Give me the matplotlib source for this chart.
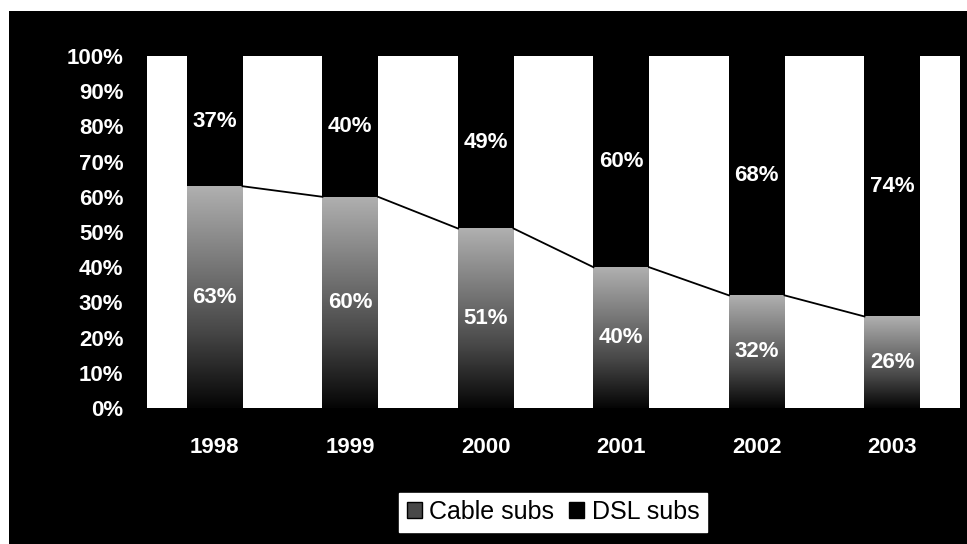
import numpy as np
import matplotlib
matplotlib.use('Agg')
import matplotlib.pyplot as plt
from matplotlib.colors import LinearSegmentedColormap
from matplotlib.patches import Rectangle, Patch

# ケーブルとDSLの加入者シェア（%）
years = ['1998', '1999', '2000', '2001', '2002', '2003']
cable = [63, 60, 51, 40, 32, 26]
dsl = [37, 40, 49, 60, 68, 74]

W, H = 967, 544
fig = plt.figure(figsize=(W / 100, H / 100), dpi=100, facecolor='white')

# 黒い背景
fig.patches.append(Rectangle((9 / W, 0), 1 - 9 / W, 1 - 11 / H,
                             transform=fig.transFigure, facecolor='black',
                             edgecolor='none', zorder=-10))

ax = fig.add_axes([147 / W, 1 - 408 / H, (960 - 147) / W, (408 - 56) / H])
ax.set_facecolor('white')

FONT = ['Liberation Sans', 'DejaVu Sans']
lab_font = dict(family=FONT, fontweight='bold', color='white', fontsize=16)

x = np.arange(len(years))
width = 0.41

# ケーブル部分はグラデーション（上が灰色、下が黒）
cmap = LinearSegmentedColormap.from_list(
    'cable', [(0, '#050505'), (0.35, '#484848'), (1, '#b0b0b0')])
grad = np.linspace(0, 1, 256).reshape(-1, 1)
for xi, c in zip(x, cable):
    ax.imshow(grad, cmap=cmap, origin='lower', aspect='auto',
              extent=(xi - width / 2, xi + width / 2, 0, c), zorder=2)

ax.bar(x, dsl, width, bottom=cable, color='black', zorder=2)

# 系列線
for i in range(len(x) - 1):
    ax.plot([x[i] + width / 2, x[i + 1] - width / 2],
            [cable[i], cable[i + 1]], color='black', lw=1.3, zorder=3)

# データラベル
for xi, c, d in zip(x, cable, dsl):
    ax.text(xi, c / 2, '{}%'.format(c), ha='center', va='center', zorder=4, **lab_font)
    ax.text(xi, c + d / 2, '{}%'.format(d), ha='center', va='center', zorder=4, **lab_font)

ax.set_xlim(-0.5, len(x) - 0.5)
ax.set_ylim(0, 100)
ax.set_yticks(range(0, 101, 10))
ax.set_yticklabels(['{}%'.format(v) for v in range(0, 101, 10)])
ax.set_xticks(x)
ax.set_xticklabels(years)
ax.tick_params(axis='y', length=0, pad=17)
ax.tick_params(axis='x', length=0, pad=21)
for t in ax.get_xticklabels() + ax.get_yticklabels():
    t.set_fontfamily(FONT)
    t.set_fontweight('bold')
    t.set_color('white')
    t.set_fontsize(16)
for s in ax.spines.values():
    s.set_visible(False)

handles = [Patch(facecolor='#484848', edgecolor='black', label='Cable subs'),
           Patch(facecolor='black', edgecolor='black', label='DSL subs')]
leg = fig.legend(handles=handles, loc='center', bbox_to_anchor=(553 / W, 1 - 512 / H),
                 ncol=2, frameon=True, fancybox=False, framealpha=1,
                 edgecolor='white', facecolor='white',
                 prop=dict(family=FONT, size=18),
                 handlelength=0.6, handleheight=0.6, handletextpad=0.3,
                 columnspacing=0.6, borderpad=0.3)

fig.savefig('out.png', dpi=100, facecolor='white')
